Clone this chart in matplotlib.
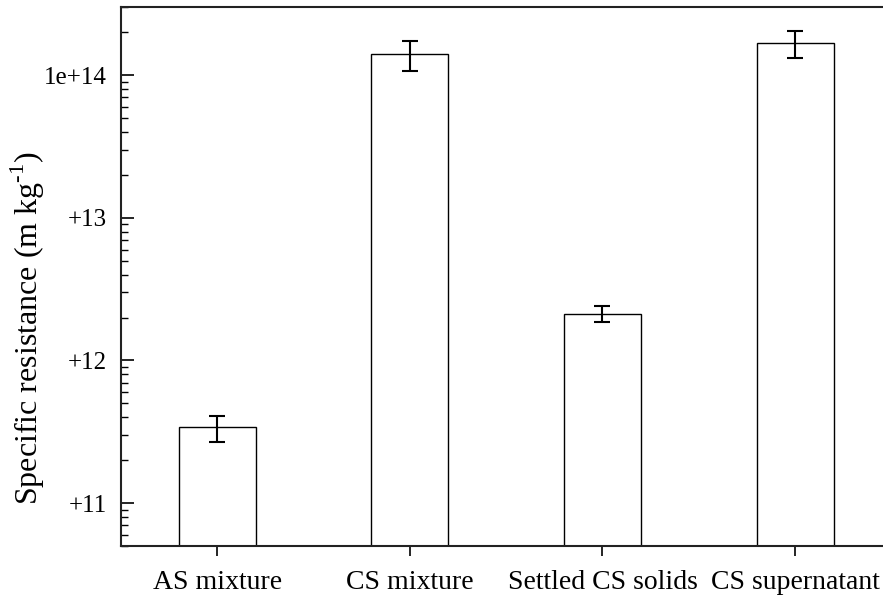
import matplotlib
matplotlib.use('Agg')
from matplotlib import pyplot as plt
from matplotlib.ticker import FixedLocator, FixedFormatter, LogLocator, NullFormatter

plt.rcParams['font.family'] = ['Liberation Serif', 'DejaVu Serif']
plt.rcParams['mathtext.fontset'] = 'custom'
plt.rcParams['mathtext.rm'] = 'Liberation Serif'

categories = ['AS mixture', 'CS mixture', 'Settled CS solids', 'CS supernatant']
resistance = [3.4e11, 1.41e14, 2.13e12, 1.69e14]
resistance_err = [0.7e11, 0.33e14, 0.27e12, 0.36e14]
ytick_values = [1e11, 1e12, 1e13, 1e14]
ytick_labels = ['+11', '+12', '+13', '1e+14']

fig = plt.figure(figsize=(8.83, 6.02), dpi=100)
ax = fig.add_axes([0.1367, 0.093, 0.873, 0.8949])

xpos = list(range(len(categories)))
ax.bar(xpos, resistance, width=0.4, color='white', edgecolor='black', linewidth=1.0, zorder=2)
ax.errorbar(xpos, resistance, yerr=resistance_err, fmt='none', ecolor='black',
            elinewidth=1.5, capsize=6.1, capthick=1.5, zorder=3)

ax.set_yscale('log')
ax.set_ylim(5e10, 3e14)
ax.set_xlim(-0.5, 3.5)
ax.yaxis.set_major_locator(FixedLocator(ytick_values))
ax.yaxis.set_major_formatter(FixedFormatter(ytick_labels))
ax.yaxis.set_minor_locator(LogLocator(base=10, subs=[2, 3, 4, 5, 6, 7, 8, 9]))
ax.yaxis.set_minor_formatter(NullFormatter())

ax.set_xticks(xpos)
ax.set_xticklabels(categories)

ax.tick_params(axis='y', which='major', direction='in', length=9, width=1.2,
               labelsize=18, pad=10)
ax.tick_params(axis='y', which='minor', direction='in', length=5, width=1.0)
ax.tick_params(axis='x', direction='out', length=7, width=1.2, labelsize=20, pad=10)

for side in ['left', 'bottom', 'top']:
    ax.spines[side].set_linewidth(1.5)
    ax.spines[side].set_color('#222222')
ax.spines['right'].set_visible(False)

ax.set_ylabel('Specific resistance (m kg$^{\\text{-1}}$)', fontsize=23)
ax.yaxis.set_label_coords(-0.096, 0.405)

fig.savefig('out.png', dpi=100)
